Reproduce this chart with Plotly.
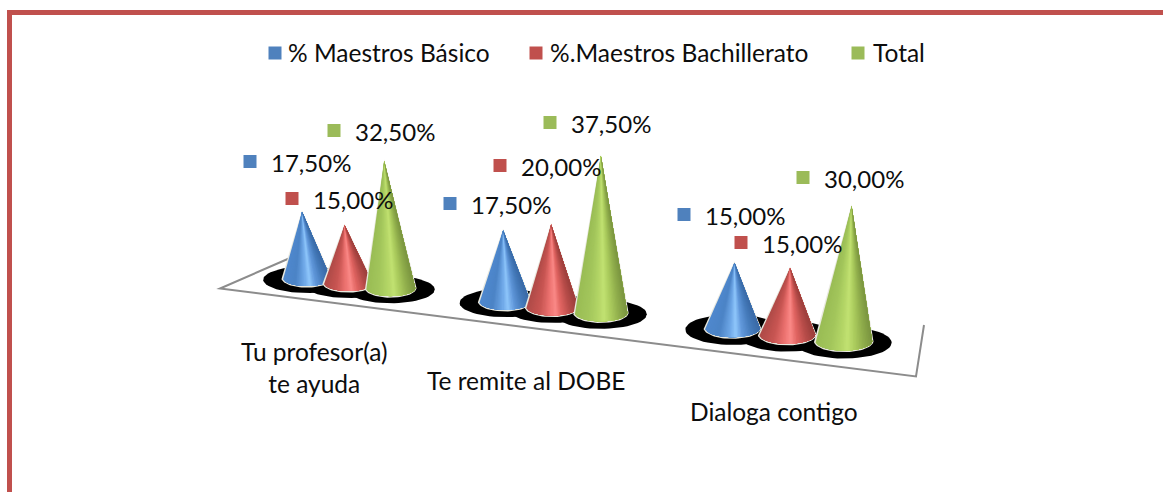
import numpy as np
import plotly.graph_objects as go

# ---------- data ----------
categories = ["Tu profesor(a)<br>te ayuda", "Te remite al DOBE", "Dialoga contigo"]
series_names = ["% Maestros Básico", "%.Maestros Bachillerato", "Total"]
maestros_basico = [17.5, 17.5, 15.0]
maestros_bachillerato = [15.0, 20.0, 15.0]
total = [32.5, 37.5, 30.0]
series_values = [maestros_basico, maestros_bachillerato, total]

# ---------- styles / layout ----------
W, H = 1163, 492
FONT = "Lato"
FS = 24
FS_BIG = 24.5
TXT = "#0d0d0d"
KEY_COL = ["#4F81BD", "#C0504D", "#9BBB59"]
GRAD = [
    [(0.0, "#4F88CE"), (0.25, "#4C84C6"), (0.45, "#6FA8E8"), (0.56, "#90C8FC"), (0.68, "#6299DC"), (0.85, "#467CBC"), (1.0, "#3A6AA6")],
    [(0.0, "#B04B48"), (0.25, "#C95653"), (0.45, "#EE7472"), (0.56, "#FB8A88"), (0.68, "#E26663"), (0.85, "#B84D4A"), (1.0, "#9C3F3C")],
    [(0.0, "#9ABD55"), (0.25, "#A3C65C"), (0.45, "#B4D667"), (0.56, "#C2E272"), (0.68, "#AECF60"), (0.85, "#90AE4C"), (1.0, "#7A9540")],
]
OUTLINE = "#E9E9DF"
CLUSTER_W = 0.22

# perspective projection of the chart's floor and height axes to the canvas
PA, PB, PC, PD, PE = 167.6, 348.0, -0.066, 3.7, 283.0
UNIT_H, BASE_R, LEAN, LEAN_C = 3.85, 24.3, 2.4e-4, 600.0


def project(q):
    p = 1.0 / (PC * q + 1.0)
    return (PA * q + PB) * p, (PD * q + PE) * p, p


def hex2rgb(h):
    return np.array([int(h[i:i + 2], 16) for i in (1, 3, 5)], float)


def grad_color(stops, t):
    ts = [s[0] for s in stops]
    cs = np.array([hex2rgb(s[1]) for s in stops])
    c = [np.interp(t, ts, cs[:, k]) for k in range(3)]
    return "rgb(%d,%d,%d)" % tuple(c)


fig = go.Figure()


def poly(xs, ys, color, lw=0.0):
    fig.add_trace(go.Scatter(x=xs, y=ys, mode="lines", fill="toself", fillcolor=color,
                             line=dict(color=color, width=lw), hoverinfo="skip",
                             showlegend=False))


# shadows first, so they sit behind every cone
for g in range(len(categories)):
    for s in range(len(series_values)):
        cx, cy, p = project(g + (s - 1) * CLUSTER_W)
        r = BASE_R * p
        th = np.linspace(0, 2 * np.pi, 60)
        poly(cx + (r + 19.5) * np.cos(th), cy + 1.5 + 13.5 * p * np.sin(th), "#000000")

# cones
for g in range(len(categories)):
    for s, vals in enumerate(series_values):
        cx, cy, p = project(g + (s - 1) * CLUSTER_W)
        r = BASE_R * p
        ry = r * 0.33
        h = UNIT_H * vals[g] * p
        ax = cx + LEAN * (cx - LEAN_C) * h
        ay = cy - h
        # pale rim around the silhouette
        tho = np.linspace(np.pi, 0, 40)
        poly(np.r_[ax, cx + (r + 1.3) * np.cos(tho)], np.r_[ay - 1.5, cy + (ry + 1.6) * np.sin(tho)], OUTLINE)
        # shaded surface: painter-ordered sectors, each reaching to the right edge, so no seams show
        N = 36
        th = np.arccos(np.linspace(-1, 1, N + 1))
        arc = np.linspace(np.pi, 0, 121)
        for i in range(N):
            t = (i + 0.5) / N
            part = np.r_[th[i], arc[arc < th[i]]]
            xs = np.r_[ax, cx + r * np.cos(part)]
            ys = np.r_[ay, cy + ry * np.sin(part)]
            poly(xs, ys, grad_color(GRAD[s], t))

# value labels: square key + text (screen positions of the manually placed labels)
LABEL_KEY_X = [[250, 450, 684], [292, 500, 741], [334, 550, 803]]
LABEL_KEY_Y = [[161.5, 203.5, 214.5], [198.5, 165.5, 242.5], [130.5, 122.5, 177.5]]
annotations = []
for s, vals in enumerate(series_values):
    fig.add_trace(go.Scatter(x=LABEL_KEY_X[s], y=LABEL_KEY_Y[s], mode="markers", name=series_names[s],
                             marker=dict(symbol="square", size=13, color=KEY_COL[s]),
                             hoverinfo="skip", showlegend=False))
    for g, v in enumerate(vals):
        annotations.append(dict(x=LABEL_KEY_X[s][g] + 21, y=LABEL_KEY_Y[s][g] + 0.8, xref="x", yref="y",
                                text=f"{v:.2f}".replace(".", ",") + "%", showarrow=False,
                                xanchor="left", yanchor="middle", xshift=-2,
                                font=dict(family=FONT, size=FS, color=TXT)))

# legend row
LEG_KEY_X = [275, 536, 858]
LEG_TEXT_X = [288, 550, 873]
LEG_Y = 53
fig.add_trace(go.Scatter(x=LEG_KEY_X, y=[LEG_Y] * 3, mode="markers",
                         marker=dict(symbol="square", size=13, color=KEY_COL),
                         hoverinfo="skip", showlegend=False))
for n, tx in zip(series_names, LEG_TEXT_X):
    annotations.append(dict(x=tx, y=LEG_Y - 1, xref="x", yref="y", text=n, showarrow=False, xanchor="left",
                            yanchor="middle", xshift=-2, font=dict(family=FONT, size=FS_BIG, color=TXT)))

# category labels
CAT_X = [314, 526, 774]
CAT_Y = [367, 380, 411]
for c, x, y in zip(categories, CAT_X, CAT_Y):
    annotations.append(dict(x=x, y=y, xref="x", yref="y", text=c, showarrow=False, xanchor="center",
                            yanchor="middle", font=dict(family=FONT, size=FS_BIG, color=TXT)))

shapes = [
    dict(type="path", path="M 9.5 492 L 9.5 12.5 L 1163 12.5", line=dict(color="#C0504D", width=5), layer="below"),
    dict(type="path", path="M 290 258 L 220 288.5 L 916 376.5 L 924 325", line=dict(color="#8C8C8C", width=2), layer="below"),
]

fig.update_layout(
    width=W, height=H, margin=dict(l=0, r=0, t=0, b=0), autosize=False,
    paper_bgcolor="white", plot_bgcolor="white", showlegend=False,
    xaxis=dict(range=[0, W], visible=False, fixedrange=True),
    yaxis=dict(range=[H, 0], visible=False, fixedrange=True),
    annotations=annotations, shapes=shapes,
)

fig.write_html("out.html", config={"displayModeBar": False},
               post_script="document.body.style.margin='0';document.body.style.overflow='hidden';")
